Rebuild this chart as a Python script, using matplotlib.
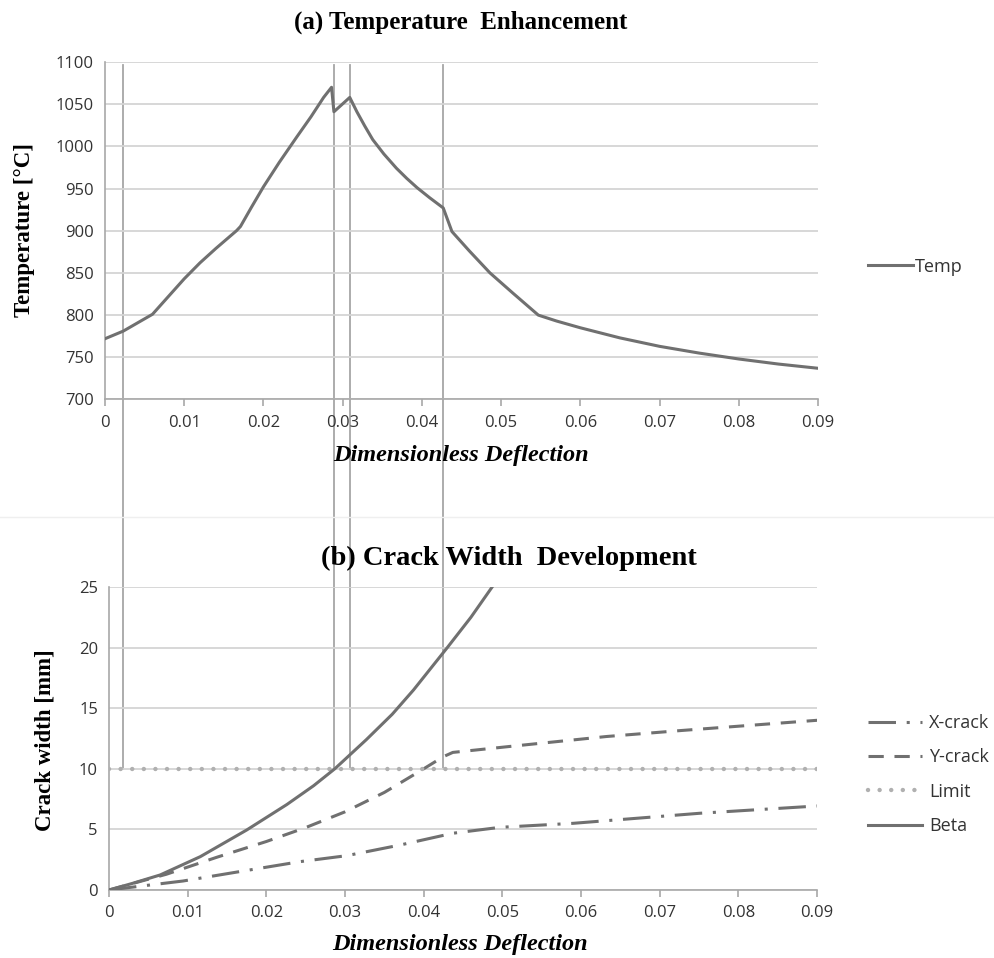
import matplotlib
matplotlib.use("Agg")
import matplotlib.pyplot as plt
from matplotlib.transforms import blended_transform_factory

# (a) temperature vs dimensionless deflection
temp_x = [0, 0.0023, 0.006, 0.008, 0.010, 0.012, 0.014, 0.0166, 0.0171, 0.0185,
          0.020, 0.022, 0.0242, 0.026, 0.0276, 0.0286, 0.0289, 0.0309, 0.0318, 0.0328,
          0.0338, 0.0352, 0.0368, 0.0381, 0.0394, 0.0410, 0.0427, 0.0438, 0.0460, 0.0486,
          0.0515, 0.0547, 0.057, 0.060, 0.065, 0.070, 0.075, 0.080, 0.085, 0.090]
temp_y = [772, 781, 801, 822, 843, 862, 879, 900, 905, 928,
          952, 981, 1011, 1035, 1058, 1070, 1041, 1058, 1041, 1024,
          1008, 991, 974, 962, 951, 939, 927, 899, 876, 850,
          826, 800, 793, 785, 773, 763, 755, 748, 742, 737]

# (b) crack widths
beta_x = [0, 0.003, 0.0065, 0.0116, 0.0175, 0.0226, 0.026, 0.0287, 0.0327, 0.036,
          0.0387, 0.0430, 0.046, 0.0487]
beta_y = [0, 0.55, 1.24, 2.75, 4.95, 7.05, 8.6, 10.0, 12.4, 14.5,
          16.5, 20.0, 22.5, 25.0]

ycrack_x = [0, 0.0073, 0.0137, 0.020, 0.025, 0.030, 0.035, 0.0395, 0.0425, 0.0437,
            0.0518, 0.0632, 0.0726, 0.090]
ycrack_y = [0, 1.3, 2.7, 4.0, 5.15, 6.45, 8.05, 9.8, 11.0, 11.35,
            11.9, 12.66, 13.15, 14.0]

xcrack_x = [0, 0.0052, 0.0094, 0.0158, 0.0243, 0.0302, 0.037, 0.0437, 0.0497, 0.059,
            0.0751, 0.090]
xcrack_y = [0, 0.41, 0.74, 1.43, 2.34, 2.83, 3.71, 4.68, 5.17, 5.5,
            6.33, 6.93]

limit_x = [0, 0.09]
limit_y = [10, 10]

# deflection marks drawn across both panels
marks = [0.00227, 0.0289, 0.0309, 0.0427]

xticks = [0, 0.01, 0.02, 0.03, 0.04, 0.05, 0.06, 0.07, 0.08, 0.09]
xticklabels = ["0", "0.01", "0.02", "0.03", "0.04", "0.05", "0.06", "0.07", "0.08", "0.09"]

line_col = "#707070"
grid_col = "#d4d4d4"
axis_col = "#a8a8a8"
serif = "Liberation Serif"
sans = "Open Sans"

fig = plt.figure(figsize=(9.94, 9.58), dpi=100)
ax1 = fig.add_axes([0.1056, 0.583, 0.7173, 0.3523])
ax2 = fig.add_axes([0.1097, 0.0710, 0.7123, 0.3163])


def style(ax, ylim, yticks):
    ax.patch.set_alpha(0)
    ax.set_xlim(0, 0.09)
    ax.set_ylim(*ylim)
    ax.set_yticks(yticks)
    ax.set_xticks(xticks)
    ax.set_xticklabels(xticklabels)
    for s in ["top", "right"]:
        ax.spines[s].set_visible(False)
    for s in ["left", "bottom"]:
        ax.spines[s].set_color(axis_col)
        ax.spines[s].set_linewidth(1.2)
    ax.yaxis.grid(True, color=grid_col, linewidth=1.3)
    ax.set_axisbelow(True)
    ax.tick_params(axis="x", length=5, color=axis_col, width=1.2, pad=6)
    ax.tick_params(axis="y", length=0, pad=8)
    for lab in ax.get_xticklabels() + ax.get_yticklabels():
        lab.set_fontfamily(sans)
        lab.set_fontsize(12)
        lab.set_color("#333333")


style(ax1, (700, 1100), list(range(700, 1101, 50)))
style(ax2, (0, 25), [0, 5, 10, 15, 20, 25])

ax1.plot(temp_x, temp_y, color=line_col, lw=2.2, label="Temp", zorder=3)

ax2.plot(xcrack_x, xcrack_y, color=line_col, lw=2.2, dashes=(9, 3.5, 1, 3.5), label="X-crack", zorder=3)
ax2.plot(ycrack_x, ycrack_y, color=line_col, lw=2.2, dashes=(5, 3.5), label="Y-crack", zorder=3)
ax2.plot(limit_x, limit_y, color="#b0b0b0", lw=3.2, dashes=(0.01, 2.6), dash_capstyle="round",
         label="Limit", zorder=3)
ax2.plot(beta_x, beta_y, color=line_col, lw=2.2, label="Beta", zorder=3)

# vertical marks: x in top-panel data, y in figure fraction (top of panel a to Limit line of panel b)
trans = blended_transform_factory(ax1.transData, fig.transFigure)
for m in marks:
    fig.add_artist(plt.Line2D([m, m], [1 - 65 / 958, 1 - 769 / 958], transform=trans,
                              color="#a6a6a6", lw=1.3, zorder=-1))

fig.text(0.463, 0.977, "(a) Temperature  Enhancement", ha="center", va="center",
         family=serif, fontweight="bold", fontsize=18)
fig.text(0.512, 0.4175, "(b) Crack Width  Development", ha="center", va="center",
         family=serif, fontweight="bold", fontsize=20.5)
fig.text(0.025, 0.76, "Temperature [°C]", rotation=90, ha="center", va="center",
         family=serif, fontweight="bold", fontsize=16.5)
fig.text(0.045, 0.2276, "Crack width [mm]", rotation=90, ha="center", va="center",
         family=serif, fontweight="bold", fontsize=16.5)
fig.text(0.464, 0.525, "Dimensionless Deflection", ha="center", va="center",
         family=serif, fontweight="bold", style="italic", fontsize=17.5)
fig.text(0.463, 0.0146, "Dimensionless Deflection", ha="center", va="center",
         family=serif, fontweight="bold", style="italic", fontsize=17.5)

leg1 = ax1.legend(loc="center left", bbox_to_anchor=(0.873, 0.7216), bbox_transform=fig.transFigure,
                  frameon=False, handlelength=2.5, handletextpad=0.1, borderpad=0, borderaxespad=0,
                  prop={"family": sans, "size": 13})
leg2 = ax2.legend(loc="center left", bbox_to_anchor=(0.873, 0.1915), bbox_transform=fig.transFigure,
                  frameon=False, handlelength=3.0, handletextpad=0.4, labelspacing=0.9,
                  borderpad=0, borderaxespad=0, prop={"family": sans, "size": 13})
for leg in (leg1, leg2):
    for t in leg.get_texts():
        t.set_color("#333333")

# faint chart-area border of the lower panel
fig.add_artist(plt.Line2D([0, 1], [1 - 517 / 958] * 2, transform=fig.transFigure,
                          color="#efefef", lw=1))

fig.savefig("out.png", dpi=100)
